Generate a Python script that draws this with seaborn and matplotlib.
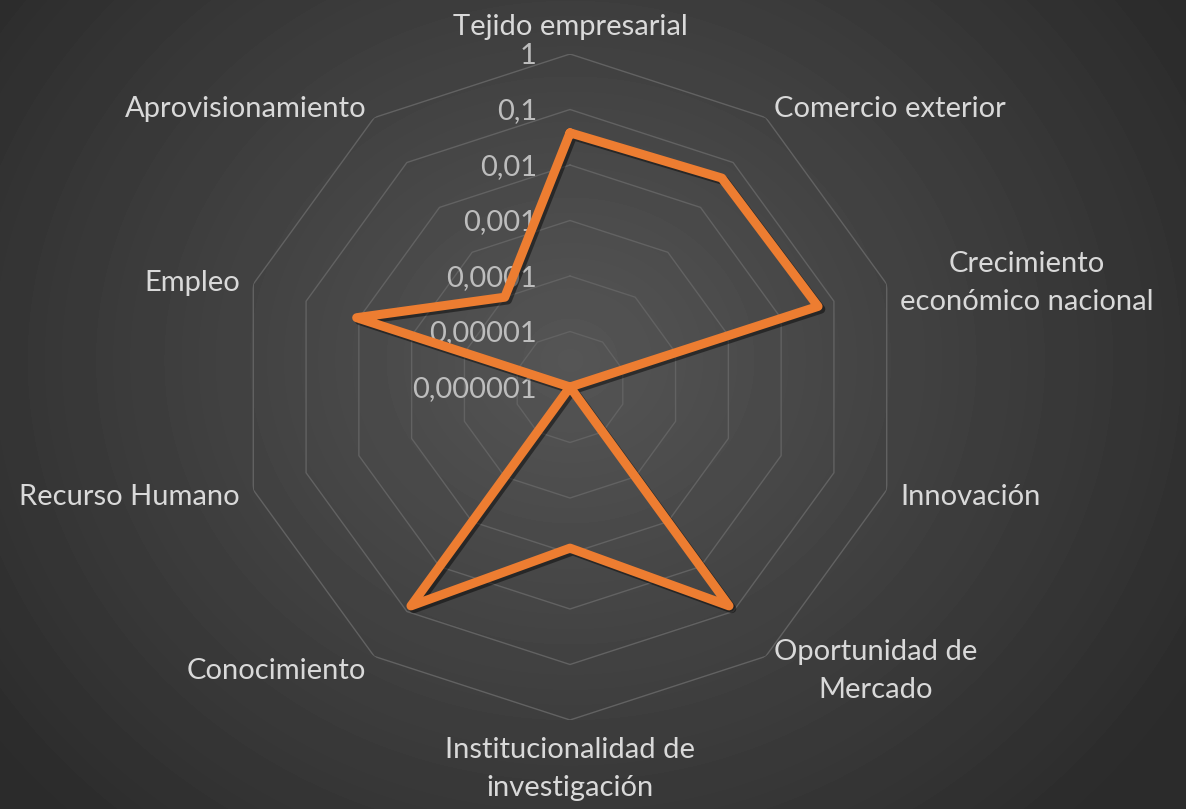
import numpy as np
import pandas as pd
import matplotlib
matplotlib.use("Agg")
import matplotlib.pyplot as plt
import matplotlib.patheffects as pe
from matplotlib.transforms import offset_copy
import seaborn as sns

# Data (log scale, 1e-6 .. 1)
categories = ["Tejido empresarial", "Comercio exterior", "Crecimiento\neconómico nacional",
              "Innovación", "Oportunidad de\nMercado", "Institucionalidad de\ninvestigación",
              "Conocimiento", "Recurso Humano", "Empleo", "Aprovisionamiento"]
values = [0.038, 0.045, 0.05, 0.000001, 0.075, 0.0008, 0.075, 0.000001, 0.011, 0.0001]
ring_values = [1e-6, 1e-5, 1e-4, 1e-3, 1e-2, 1e-1, 1]
ring_labels = ["0,000001", "0,00001", "0,0001", "0,001", "0,01", "0,1", "1"]

sns.set_style("dark")
plt.rcParams["font.family"] = ["Lato", "DejaVu Sans"]

W, H = 1186, 809
fig = plt.figure(figsize=(W / 100, H / 100), dpi=100)

# radial gradient background
bg = fig.add_axes([0, 0, 1, 1])
yy, xx = np.mgrid[0:H, 0:W]
d = np.sqrt(((xx - 570) / 700.0) ** 2 + ((yy - 360) / 620.0) ** 2)
shade = np.clip(0.335 - 0.16 * d, 0.17, 0.34)
bg.imshow(shade, cmap="gray", vmin=0, vmax=1, aspect="auto")
bg.axis("off")

cx, cy, R = 570, 387, 333
ax = fig.add_axes([(cx - R) / W, (H - cy - R) / H, 2 * R / W, 2 * R / H], projection="polar")
ax.patch.set_alpha(0)
ax.set_theta_zero_location("N")
ax.set_theta_direction(-1)
ax.set_rscale("log")
ax.set_rlim(1e-6, 1)
ax.grid(False)
ax.spines["polar"].set_visible(False)

n = len(categories)
angles = np.arange(n) * 2 * np.pi / n
closed_angles = np.append(angles, 2 * np.pi)

# decagon gridlines
for rv in ring_values[1:]:
    ax.plot(closed_angles, [rv] * (n + 1), color="#626262", lw=1.0, zorder=1)

# tick labels along the top spoke
tick_tr = offset_copy(ax.transData, fig=fig, x=-33, y=-2, units="dots")
for rv, lab in zip(ring_values, ring_labels):
    ax.text(0, rv, lab, transform=tick_tr, ha="right", va="center",
            fontsize=21, color="#bdbdbd", zorder=2)

# series
df = pd.DataFrame({"angle": closed_angles, "value": values + [values[0]]})
sns.lineplot(data=df, x="angle", y="value", sort=False, estimator=None, ax=ax,
             color="#ED7D31", lw=6.5, zorder=3,
             path_effects=[pe.SimpleLineShadow(offset=(2, -2), alpha=0.45, shadow_color="black"),
                           pe.Normal()])
ax.set_xlabel("")
ax.set_ylabel("")
ax.set_xticks([])
ax.set_yticks([])
ax.set_rlim(1e-6, 1)

# category labels
for ang, lab in zip(angles, categories):
    s, c = np.sin(ang), np.cos(ang)
    x = (cx + 347 * s) / W
    y_px = cy - 347 * c
    if s > 0.05:
        ha = "left"
    elif s < -0.05:
        ha = "right"
    else:
        ha = "center"
    if abs(s) < 0.05:
        va = "bottom" if c > 0 else "top"
    else:
        va = "center"
    if c < 0.9:
        y_px += 3
    fig.text(x, (H - y_px) / H, lab, ha=ha, va=va, multialignment="center", fontsize=21,
             color="#d9d9d9", linespacing=1.55)

fig.savefig("out.png", dpi=100)
